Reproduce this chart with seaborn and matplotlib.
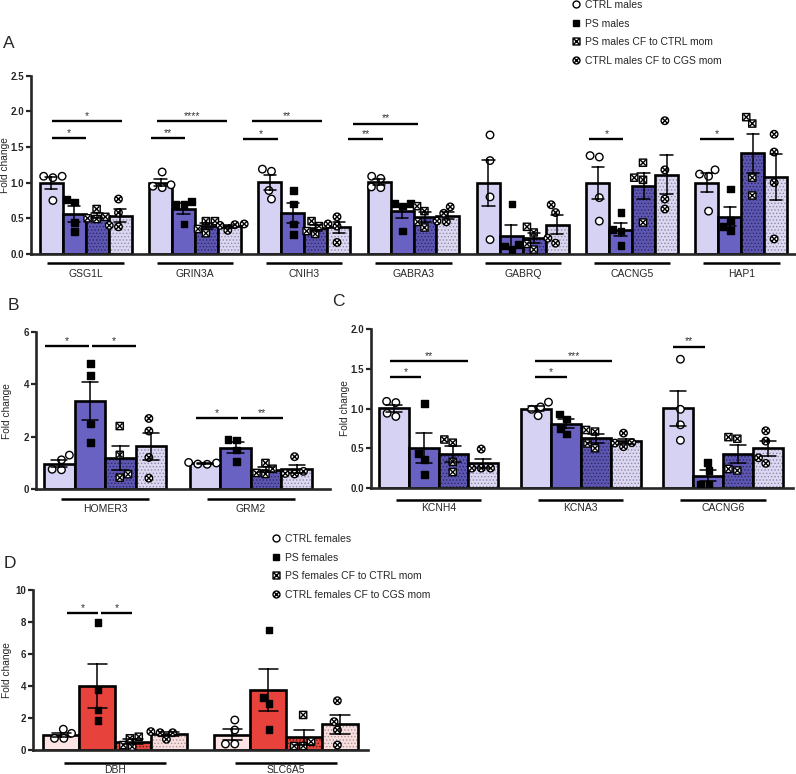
#!/usr/bin/env python3
"""Fold-change bar charts (panels A-D) redrawn with seaborn."""

import matplotlib

matplotlib.use("Agg")
import matplotlib.pyplot as plt
import pandas as pd
import seaborn as sns
from matplotlib.colors import to_rgba
from matplotlib.lines import Line2D
from matplotlib.path import Path
from matplotlib.transforms import blended_transform_factory

GROUPS = ["CTRL", "PS", "PS CF", "CTRL CF"]
MALE_LABELS = ["CTRL males", "PS males", "PS males CF to CTRL mom", "CTRL males CF to CGS mom"]
FEMALE_LABELS = ["CTRL females", "PS females", "PS females CF to CTRL mom", "CTRL females CF to CGS mom"]

# Panel A
A_GENES = ["GSG1L", "GRIN3A", "CNIH3", "GABRA3", "GABRQ", "CACNG5", "HAP1"]
A_CTRL = [[1.09, 1.07, 1.09, 0.75], [1.15, 0.97, 0.95, 0.93], [1.16, 1.19, 0.89, 0.77],
          [1.06, 1.09, 0.94, 0.93], [1.67, 1.31, 0.80, 0.20], [1.36, 1.38, 0.79, 0.46],
          [1.18, 1.09, 1.12, 0.60]]
A_PS = [[0.73, 0.76, 0.44, 0.31], [0.74, 0.69, 0.69, 0.42], [0.89, 0.70, 0.42, 0.27],
        [0.71, 0.67, 0.71, 0.32], [0.70, 0.13, 0.11, 0.06], [0.58, 0.12, 0.32, 0.34],
        [0.91, 0.33, 0.47, 0.38]]
A_PS_CF = [[0.63, 0.52, 0.50, 0.49], [0.46, 0.46, 0.29, 0.35], [0.46, 0.39, 0.28, 0.32],
           [0.60, 0.67, 0.37, 0.45], [0.30, 0.38, 0.06, 0.14], [1.28, 1.07, 1.04, 0.44],
           [1.83, 1.92, 1.07, 0.82]]
A_CTRL_CF = [[0.77, 0.58, 0.38, 0.40], [0.41, 0.42, 0.40, 0.33], [0.42, 0.52, 0.39, 0.16],
             [0.57, 0.66, 0.45, 0.46], [0.69, 0.58, 0.22, 0.15], [1.87, 1.18, 0.77, 0.63],
             [1.68, 1.43, 1.00, 0.21]]
A_SIG = [(0, -0.31, 0.00, 1.63, "*"), (0, -0.31, 0.33, 1.86, "*"),
         (1, -0.40, -0.09, 1.63, "**"), (1, -0.35, 0.29, 1.86, "****"),
         (2, -0.56, -0.24, 1.61, "*"), (2, -0.48, 0.16, 1.86, "**"),
         (3, -0.60, -0.28, 1.61, "**"), (3, -0.55, 0.04, 1.83, "**"),
         (5, -0.39, -0.08, 1.61, "*"), (6, -0.38, -0.07, 1.61, "*")]

# Panel B
B_GENES = ["HOMER3", "GRM2"]
B_CTRL = [[1.12, 1.30, 0.74, 0.76], [1.02, 0.96, 0.95, 1.00]]
B_PS = [[4.80, 4.35, 2.49, 1.78], [1.88, 1.90, 1.05, 1.50]]
B_PS_CF = [[2.41, 1.31, 0.44, 0.57], [1.00, 0.58, 0.78, 0.62]]
B_CTRL_CF = [[2.70, 2.22, 1.21, 0.42], [1.24, 0.60, 0.68, 0.58]]
B_SIG = [(0, -0.41, -0.11, 5.46, "*"), (0, -0.09, 0.21, 5.46, "*"),
         (1, -0.38, -0.09, 2.70, "*"), (1, -0.07, 0.22, 2.70, "**")]

# Panel C
C_GENES = ["KCNH4", "KCNA3", "CACNG6"]
C_CTRL = [[1.075, 1.09, 0.90, 0.94], [1.02, 1.08, 0.91, 0.99], [1.62, 0.99, 0.795, 0.60]]
C_PS = [[1.06, 0.43, 0.36, 0.17], [0.87, 0.93, 0.68, 0.75], [0.32, 0.22, 0.04, 0.04]]
C_PS_CF = [[0.57, 0.61, 0.33, 0.20], [0.71, 0.73, 0.50, 0.56], [0.62, 0.64, 0.22, 0.24]]
C_CTRL_CF = [[0.49, 0.25, 0.25, 0.25], [0.69, 0.52, 0.57, 0.565], [0.72, 0.59, 0.31, 0.38]]
C_SIG = [(0, -0.34, -0.12, 1.40, "*"), (0, -0.34, 0.21, 1.60, "**"),
         (1, -0.32, -0.10, 1.40, "*"), (1, -0.32, 0.22, 1.60, "***"),
         (2, -0.35, -0.13, 1.78, "**")]

# Panel D
D_GENES = ["DBH", "SLC6A5"]
D_CTRL = [[0.73, 1.04, 1.30, 0.73], [1.875, 1.25, 0.375, 0.375]]
D_PS = [[7.96, 3.75, 2.50, 1.83], [7.50, 3.29, 2.92, 1.29]]
D_PS_CF = [[0.73, 0.83, 0.21, 0.31], [2.19, 0.52, 0.25, 0.25]]
D_CTRL_CF = [[1.15, 1.08, 1.08, 0.67], [3.08, 1.77, 1.25, 0.31]]
D_SIG = [(0, -0.28, -0.10, 8.58, "*"), (0, -0.085, 0.10, 8.58, "*")]

MALE_COLORS = ["#d6d2f3", "#6a62c3", "#5d56b2", "#dcd8f1"]
FEMALE_COLORS = ["#fde4e4", "#e8423c", "#e2463f", "#f8dede"]
HATCH_COLORS = [None, None, "#2c2960", "#8c88a8"]
FEMALE_HATCH = [None, None, "#5a1a18", "#a89494"]


def boxed_x() -> Path:
    box = Path([(-1, -1), (1, -1), (1, 1), (-1, 1), (-1, -1)],
               [Path.MOVETO, Path.LINETO, Path.LINETO, Path.LINETO, Path.CLOSEPOLY])
    d = 0.72
    cross = Path([(-d, -d), (d, d), (-d, d), (d, -d)],
                 [Path.MOVETO, Path.LINETO, Path.MOVETO, Path.LINETO])
    return Path.make_compound_path(box, cross)


def circled_x() -> Path:
    d = 0.68
    cross = Path([(-d, -d), (d, d), (-d, d), (d, -d)],
                 [Path.MOVETO, Path.LINETO, Path.MOVETO, Path.LINETO])
    return Path.make_compound_path(Path.unit_circle(), cross)


MARKERS = ["o", "s", boxed_x(), circled_x()]
FACES = ["white", "black", "white", "white"]
SIZES = [5.4, 4.8, 5.2, 5.4]


def long_table(genes, series) -> pd.DataFrame:
    rows = []
    for group, values in zip(GROUPS, series):
        for gene, reps in zip(genes, values):
            for v in reps:
                rows.append({"gene": gene, "group": group, "value": v})
    return pd.DataFrame(rows)


def draw_panel(fig, rect, genes, series, colors, hatch_colors, sig, yticks, fmt,
               xlim, under_half, under_off, label_x):
    ax = fig.add_axes(rect)
    df = long_table(genes, series)
    palette = dict(zip(GROUPS, colors))

    sns.barplot(data=df, x="gene", y="value", hue="group", hue_order=GROUPS, order=genes,
                palette=palette, saturation=1, errorbar="se", capsize=0.45, width=0.84,
                edgecolor="black", linewidth=1.9, legend=False,
                err_kws={"color": "black", "linewidth": 1.1, "zorder": 4}, ax=ax)
    for cont, hc in zip(ax.containers, hatch_colors):
        if hc is None:
            continue
        for bar in cont:
            bar.set_hatch(".....")
            bar._hatch_color = to_rgba(hc)

    for group, mk, face, size in zip(GROUPS, MARKERS, FACES, SIZES):
        sub = df[df["group"] == group]
        sns.swarmplot(data=sub, x="gene", y="value", hue="group", hue_order=GROUPS,
                      order=genes, dodge=True, palette={g: face for g in GROUPS},
                      marker=mk, size=size, edgecolor="black", linewidth=1.0,
                      legend=False, ax=ax, zorder=3)

    for gi, x0, x1, y, text in sig:
        ax.plot([gi + x0, gi + x1], [y, y], color="black", lw=1.7, clip_on=False,
                solid_capstyle="butt")
        ax.text(gi + (x0 + x1) / 2, y, text, ha="center", va="bottom", fontsize=7.5,
                color="#333333")

    xaxis_tr = ax.get_xaxis_transform()
    for i in range(len(genes)):
        ax.plot([i - under_half, i + under_half], [under_off, under_off], color="black",
                lw=1.8, transform=xaxis_tr, clip_on=False, solid_capstyle="butt")

    ax.set_xlim(*xlim)
    ax.set_ylim(yticks[0], yticks[-1])
    ax.set_yticks(yticks)
    ax.set_yticklabels([fmt.format(t) for t in yticks], fontweight="bold", fontsize=7)
    ax.set_xticks(range(len(genes)))
    ax.set_xticklabels(genes, fontsize=7.5)
    ax.tick_params(axis="x", length=0, pad=11)
    ax.tick_params(axis="y", length=3.5, width=1.6, pad=1.5)
    ax.set_xlabel("")
    ax.set_ylabel("Fold change", fontsize=7.3)
    tr = blended_transform_factory(fig.transFigure, ax.transAxes)
    ax.yaxis.set_label_coords(label_x / 796, 0.5, transform=tr)
    for side in ["top", "right"]:
        ax.spines[side].set_visible(False)
    for side in ["left", "bottom"]:
        ax.spines[side].set_linewidth(1.9)
    return ax


def add_legend(fig, labels, x, y):
    handles = [Line2D([], [], linestyle="none", marker=mk, markersize=5,
                      markerfacecolor=face, markeredgecolor="black", markeredgewidth=1.0)
               for mk, face in zip(MARKERS, FACES)]
    fig.legend(handles, labels, loc="upper left", bbox_to_anchor=(x, y), frameon=False,
               fontsize=7.5, handlelength=1.0, handletextpad=0.3, labelspacing=0.82,
               borderpad=0, borderaxespad=0)


def main() -> None:
    sns.set_style("ticks")
    plt.rcParams["font.family"] = ["Liberation Sans", "DejaVu Sans"]
    plt.rcParams["hatch.linewidth"] = 0.6

    fig = plt.figure(figsize=(7.96, 7.74), dpi=100)

    draw_panel(fig, [0.039, 0.672, 0.961, 0.230], A_GENES,
               [A_CTRL, A_PS, A_PS_CF, A_CTRL_CF], MALE_COLORS, HATCH_COLORS, A_SIG,
               [0.0, 0.5, 1.0, 1.5, 2.0, 2.5], "{:.1f}", (-0.5, 6.5), 0.35, -0.05, 10.5)
    draw_panel(fig, [0.045, 0.368, 0.369, 0.203], B_GENES,
               [B_CTRL, B_PS, B_PS_CF, B_CTRL_CF], MALE_COLORS, HATCH_COLORS, B_SIG,
               [0, 2, 4, 6], "{:d}", (-0.476, 1.54), 0.30, -0.064, 12)
    draw_panel(fig, [0.466, 0.3695, 0.530, 0.2054], C_GENES,
               [C_CTRL, C_PS, C_PS_CF, C_CTRL_CF], MALE_COLORS, HATCH_COLORS, C_SIG,
               [0.0, 0.5, 1.0, 1.5, 2.0], "{:.1f}", (-0.475, 2.49), 0.30, -0.075, 350)
    draw_panel(fig, [0.0415, 0.031, 0.421, 0.2067], D_GENES,
               [D_CTRL, D_PS, D_PS_CF, D_CTRL_CF], FEMALE_COLORS, FEMALE_HATCH, D_SIG,
               [0, 2, 4, 6, 8, 10], "{:d}", (-0.48, 1.48), 0.30, -0.08, 12)

    add_legend(fig, MALE_LABELS, 571 / 796, 1.0)
    add_legend(fig, FEMALE_LABELS, 271 / 796, 1 - 534 / 774)

    for text, px, py in [("A", 9, 43), ("B", 13, 305), ("C", 338, 302), ("D", 10, 563)]:
        fig.text(px / 796, 1 - py / 774, text, fontsize=12.5, ha="center", va="center")

    fig.savefig("out.png", dpi=100)
    plt.close(fig)


if __name__ == "__main__":
    main()
